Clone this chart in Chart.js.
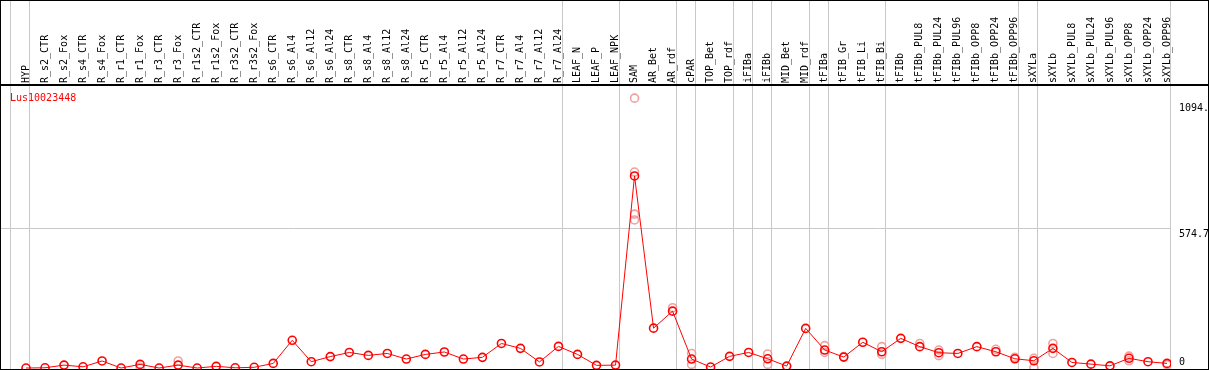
<!DOCTYPE html>
<html>
<head>
<meta charset="utf-8">
<script src="https://cdn.jsdelivr.net/npm/chart.js@4/dist/chart.umd.min.js"></script>
<style>
  body { margin: 0; background: #fff; }
  #wrap { width: 1209px; height: 370px; position: relative; }
</style>
</head>
<body>
<div id="wrap"><canvas id="expr_chart"></canvas></div>
<script>
// sample names along the top
const categories = [
  "HYP", "R_s2_CTR", "R_s2_Fox", "R_s4_CTR", "R_s4_Fox", "R_r1_CTR", "R_r1_Fox",
  "R_r3_CTR", "R_r3_Fox", "R_r1s2_CTR", "R_r1s2_Fox", "R_r3s2_CTR", "R_r3s2_Fox",
  "R_s6_CTR", "R_s6_Al4", "R_s6_Al12", "R_s6_Al24", "R_s8_CTR", "R_s8_Al4", "R_s8_Al12",
  "R_s8_Al24", "R_r5_CTR", "R_r5_Al4", "R_r5_Al12", "R_r5_Al24", "R_r7_CTR", "R_r7_Al4",
  "R_r7_Al12", "R_r7_Al24", "LEAF_N", "LEAF_P", "LEAF_NPK", "SAM", "AR_Bet", "AR_rdf",
  "cPAR", "TOP_Bet", "TOP_rdf", "iFIBa", "iFIBb", "MID_Bet", "MID_rdf", "tFIBa",
  "tFIB_Gr", "tFIB_Li", "tFIB_Bi", "tFIBb", "tFIBb_PUL8", "tFIBb_PUL24", "tFIBb_PUL96",
  "tFIBb_OPP8", "tFIBb_OPP24", "tFIBb_OPP96", "sXYLa", "sXYLb", "sXYLb_PUL8",
  "sXYLb_PUL24", "sXYLb_PUL96", "sXYLb_OPP8", "sXYLb_OPP24", "sXYLb_OPP96"
];

// mean expression per sample
const meanValues = [
  0, 1, 12, 5, 29, 0, 15, 0, 12, 0, 7, 1, 3,
  19, 114, 26, 47, 64, 52, 60, 37, 56, 66, 37, 44, 101, 81, 25, 89,
  56, 11, 12,
  790, 164, 234,
  37, 4, 48, 64, 38, 8, 163,
  74, 45, 106, 67,
  122, 88, 63, 60, 88, 67, 38,
  30, 81, 23, 16, 9, 40, 26, 19
];

// single replicates that show beside the means
const repIndex = [6, 8, 32, 32, 32, 32, 34, 35, 35, 39, 39, 42, 42, 43, 45, 45, 47, 48, 48, 51, 52, 53, 53, 54, 54, 58, 58, 60];
const repValues = [3, 29, 1110, 806, 633, 609, 248, 60, 15, 58, 15, 92, 64, 47, 88, 56, 101, 74, 51, 77, 44, 40, 1, 101, 60, 49, 30, 14];

// last sample of each tissue group (-1 = left edge)
const groupEnds = [-1, 0, 28, 31, 34, 35, 37, 38, 39, 41, 42, 45, 52, 53, 60];

const yTicks = [0, 574.7, 1094];
const yTickLabels = ["0", "574.7", "1094."];
const geneName = "Lus10023448";

const monoFont = { family: "'DejaVu Sans Mono', monospace", size: 10 };

const framePlugin = {
  id: "frame",
  beforeDatasetsDraw(chart) {
    const c = chart.ctx;
    const xs = chart.scales.x;
    c.save();
    c.fillStyle = "#c8c8c8";
    groupEnds.forEach(function(g) {
      const px = Math.round(xs.getPixelForValue(g + 0.18));
      c.fillRect(px, 0, 1, chart.height);
    });
    c.restore();
  },
  afterDraw(chart) {
    const c = chart.ctx;
    const a = chart.chartArea;
    c.save();
    c.fillStyle = "#000";
    c.fillRect(0, 0, chart.width, 1);
    c.fillRect(0, 0, 1, chart.height);
    c.fillRect(chart.width - 1, 0, 1, chart.height);
    c.fillRect(0, a.top - 2, chart.width, 2);
    c.fillRect(0, a.bottom, chart.width, 2);
    c.fillStyle = "#ff0000";
    c.font = "10px 'DejaVu Sans Mono', monospace";
    c.textBaseline = "alphabetic";
    c.fillText(geneName, a.left + 9, a.top + 15);
    c.restore();
  }
};

const ctx = document.getElementById("expr_chart").getContext("2d");
const expr_chart = new Chart(ctx, {
  type: "line",
  data: {
    datasets: [{
      label: geneName,
      data: meanValues.map(function(v, i) { return { x: i, y: v }; }),
      borderColor: "#ff0000",
      borderWidth: 1,
      pointRadius: 4,
      pointBorderWidth: 1.6,
      pointBorderColor: "#ff0000",
      pointBackgroundColor: "rgba(0,0,0,0)",
      tension: 0
    }, {
      type: "scatter",
      label: "replicates",
      data: repIndex.map(function(ix, i) { return { x: ix, y: repValues[i] }; }),
      showLine: false,
      pointRadius: 4,
      pointBorderWidth: 1.6,
      pointBorderColor: "rgba(240,150,150,0.9)",
      pointBackgroundColor: "rgba(0,0,0,0)"
    }]
  },
  options: {
    responsive: true,
    maintainAspectRatio: false,
    animation: false,
    layout: { autoPadding: false, padding: { left: 1, top: 0, bottom: 1, right: 0 } },
    plugins: {
      legend: { display: false },
      tooltip: { enabled: false }
    },
    scales: {
      x: {
        type: "linear",
        position: "top",
        min: -1.315,
        max: 60.21,
        afterBuildTicks: function(s) { s.ticks = categories.map(function(c, i) { return { value: i }; }); },
        afterFit: function(s) {
          s.height = 86;
          s.paddingLeft = 0;
          s.paddingRight = 0;
        },
        ticks: {
          autoSkip: false,
          minRotation: 90,
          maxRotation: 90,
          padding: 3,
          labelOffset: 12,
          color: "#000",
          font: monoFont,
          callback: function(v) { return categories[v]; }
        },
        grid: { display: false, drawTicks: false },
        border: { display: false }
      },
      y: {
        position: "right",
        min: -4,
        max: 1160,
        afterBuildTicks: function(s) { s.ticks = yTicks.map(function(v) { return { value: v }; }); },
        afterFit: function(s) {
          s.width = 38;
          s.paddingTop = 0;
          s.paddingBottom = 0;
        },
        ticks: {
          padding: 8,
          color: "#000",
          font: monoFont,
          callback: function(v) {
            const lbl = yTickLabels[yTicks.indexOf(v)];
            return v === 0 ? [lbl, ""] : ["", lbl];
          }
        },
        grid: {
          drawTicks: false,
          color: function(c) { return c.tick && c.tick.value === 574.7 ? "#c8c8c8" : "rgba(0,0,0,0)"; }
        },
        border: { display: false }
      }
    }
  },
  plugins: [framePlugin]
});
</script>
</body>
</html>
